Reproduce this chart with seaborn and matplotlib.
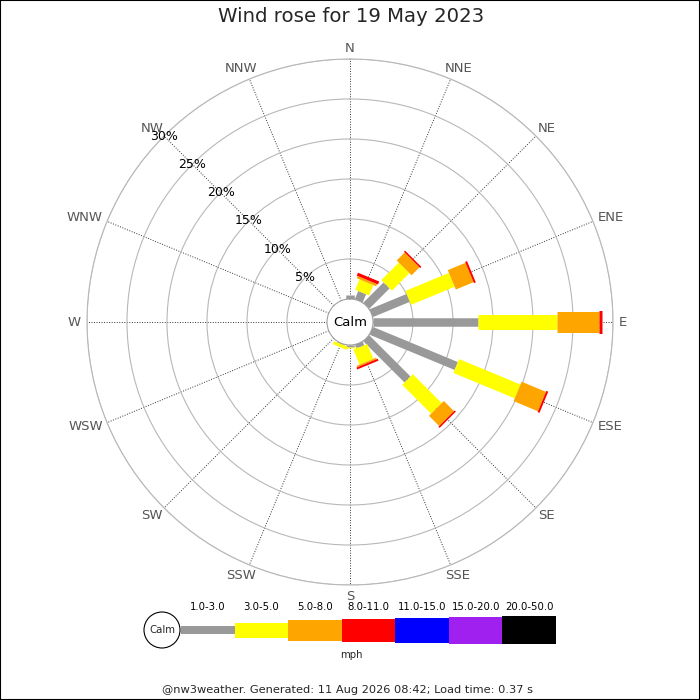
import numpy as np
import matplotlib
matplotlib.use("Agg")
import matplotlib.pyplot as plt
from matplotlib.patches import Circle, Rectangle
import seaborn as sns

# ---------------- data ----------------
directions = ["N", "NNE", "NE", "ENE", "E", "ESE", "SE", "SSE",
              "S", "SSW", "SW", "WSW", "W", "WNW", "NW", "NNW"]
speed_classes = ["1.0-3.0", "3.0-5.0", "5.0-8.0", "8.0-11.0",
                 "11.0-15.0", "15.0-20.0", "20.0-50.0"]
# percentage of time per direction for each speed class (mph)
pct_1_3 = [0.5, 1.1, 3.6, 5.0, 13.1, 11.5, 7.3, 0.5, 0.3, 0.1, 0, 0, 0, 0, 0, 0]
pct_3_5 = [0, 1.4, 3.1, 5.9, 9.9, 8.3, 5.1, 2.0, 0.1, 0.4, 0, 0, 0, 0, 0, 0]
pct_5_8 = [0, 0.3, 1.4, 2.4, 5.25, 3.3, 1.8, 0.2, 0, 0, 0, 0, 0, 0, 0, 0]
pct_8_11 = [0, 0.4, 0.2, 0.25, 0.35, 0.25, 0.2, 0.25, 0, 0, 0, 0, 0, 0, 0, 0]
pct_11_15 = [0, 0, 0, 0, 0, 0, 0, 0, 0, 0, 0, 0, 0, 0, 0, 0]
pct_15_20 = [0, 0, 0, 0, 0, 0, 0, 0, 0, 0, 0, 0, 0, 0, 0, 0]
pct_20_50 = [0, 0, 0, 0, 0, 0, 0, 0, 0, 0, 0, 0, 0, 0, 0, 0]
ring_values = [5, 10, 15, 20, 25, 30]
ring_labels = ["5%", "10%", "15%", "20%", "25%", "30%"]
title_text = "Wind rose for 19 May 2023"
unit_text = "mph"
calm_text = "Calm"
footer_text = "@nw3weather. Generated: 11 Aug 2026 08:42; Load time: 0.37 s"

# ---------------- style ----------------
sns.set_style("white")
plt.rcParams["font.family"] = ["DejaVu Sans"]

class_colors = ["#999999", "#ffff00", "#ffa500", "#ff0000",
                "#0000ff", "#a020f0", "#000000"]
class_px = [8.5, 15, 21, 23, 25, 27, 28]   # bar thickness in pixels
DPI = 100
px2pt = 72.0 / DPI

fig = plt.figure(figsize=(7, 7), dpi=DPI)
fig.patch.set_facecolor("white")

# ---------------- polar rose ----------------
cx, cy, R = 350, 322, 263
ax = fig.add_axes([(cx - R) / 700, (700 - cy - R) / 700, 2 * R / 700, 2 * R / 700],
                  projection="polar")
ax.set_facecolor("white")
ax.set_theta_zero_location("N")
ax.set_theta_direction(-1)
ax.set_rorigin(-2.875)
ax.set_rlim(0, 30)

theta_deg = np.arange(len(directions)) * 22.5
theta = np.deg2rad(theta_deg)
ax.set_xticks(theta)
ax.set_xticklabels([])
ax.set_yticks(ring_values)
ax.set_yticklabels([])
ax.yaxis.grid(True, color="#b8b8b8", lw=0.8, ls="-")
ax.xaxis.grid(True, color="#333333", lw=0.7, ls=(0, (1, 1.6)))
ax.spines["polar"].set_color("#b8b8b8")
ax.spines["polar"].set_linewidth(0.8)
if "inner" in ax.spines:
    ax.spines["inner"].set_color("#a0a0a0")
    ax.spines["inner"].set_linewidth(0.8)
    ax.spines["inner"].set_visible(True)

# direction labels: centred, then pushed outward by half their size
label_r = 30.75
renderer = fig.canvas.get_renderer()
for t, lab in zip(theta, directions):
    ann = ax.annotate(lab, xy=(t, label_r), xytext=(0, 0), textcoords="offset points",
                      ha="center", va="center", fontsize=9.5, color="#555555",
                      annotation_clip=False)
    bb = ann.get_window_extent(renderer)
    w, h = bb.width, 10.0
    ann.xyann = (w / 2 * np.sin(t) * px2pt, h / 2 * np.cos(t) * px2pt)

series = [pct_1_3, pct_3_5, pct_5_8, pct_8_11, pct_11_15, pct_15_20, pct_20_50]
base = np.zeros(len(directions))
for vals, col, wpx in zip(series, class_colors, class_px):
    vals = np.asarray(vals, dtype=float)
    for t, b, v in zip(theta, base, vals):
        if v > 0:
            ax.plot([t, t], [b, b + v], color=col, lw=wpx * px2pt,
                    solid_capstyle="butt", zorder=3)
    base = base + vals

for v, lab in zip(ring_values, ring_labels):
    ax.text(np.deg2rad(315), v, lab, ha="center", va="center",
            fontsize=9, color="black", zorder=4)

ax.text(0.5, 0.5, calm_text, transform=ax.transAxes, ha="center",
        va="center", fontsize=9.5, color="black", zorder=5)

# ---------------- legend ----------------
lx0, lx1, lyc = 181, 556, 630
lax = fig.add_axes([lx0 / 700, (700 - lyc - 17) / 700, (lx1 - lx0) / 700, 34 / 700])
lax.set_xlim(0, len(speed_classes))
lax.set_ylim(-17, 17)
lax.axis("off")
xpos = np.arange(len(speed_classes)) + 0.5
hts = np.array(class_px, dtype=float)
hts[0] = 8
lax.bar(xpos, hts, bottom=-hts / 2, width=1.0, color=class_colors,
        edgecolor="none", linewidth=0)
for x, lab in zip(xpos, speed_classes):
    lax.text(x, 23, lab, ha="center", va="center", fontsize=7.3,
             color="black", clip_on=False)

ov = fig.add_axes([0, 0, 1, 1], facecolor="none")
ov.set_xlim(0, 700)
ov.set_ylim(700, 0)
ov.axis("off")
ov.add_patch(Circle((162, 630), 18, facecolor="white", edgecolor="black", lw=0.8))
ov.text(162, 630, calm_text, ha="center", va="center", fontsize=7.3)
ov.text(351, 655, unit_text, ha="center", va="center", fontsize=7.3)
ov.text(351, 17, title_text, ha="center", va="center", fontsize=14.2)
ov.text(348, 690, footer_text, ha="center", va="center", fontsize=8.2)

fig.patches.append(Rectangle((0, 0), 1, 1, transform=fig.transFigure,
                             fill=False, edgecolor="black", lw=1.5))

fig.savefig("out.png", dpi=DPI, facecolor="white")
